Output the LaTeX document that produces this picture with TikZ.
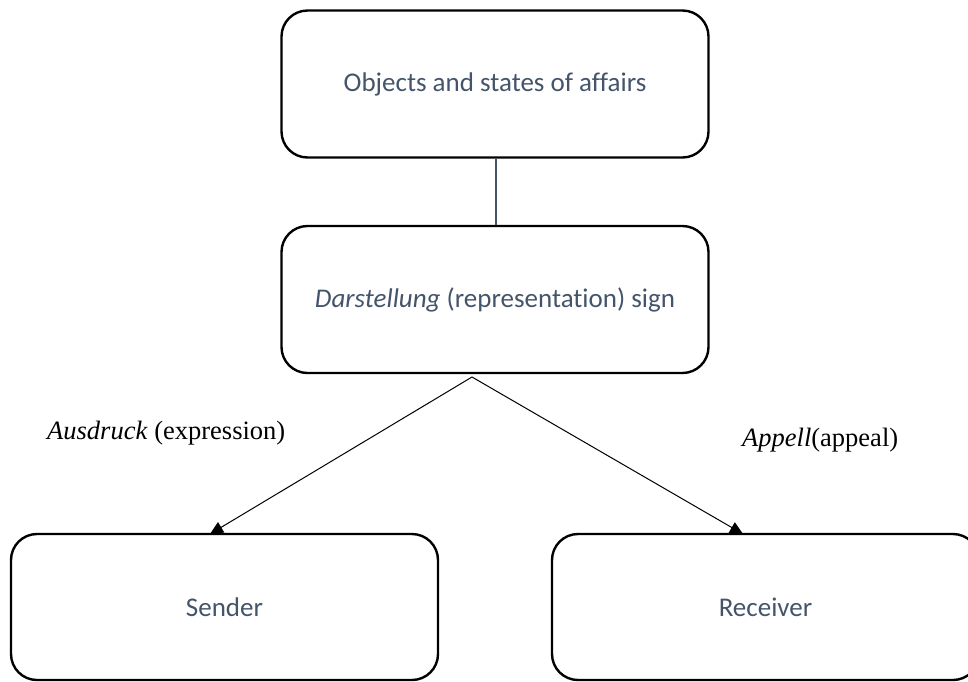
\documentclass[tikz,border=0pt]{standalone}
\usepackage{fontspec}
\setmainfont{Liberation Serif}
\newfontfamily\boxfont[RawFeature=-liga]{Carlito}
\usetikzlibrary{arrows.meta}
\definecolor{slate}{HTML}{44546A}
\begin{document}
\begin{tikzpicture}[x=1pt,y=-1pt,
  roundbox/.style={draw=black, line width=2.4pt, rounded corners=26pt,
    minimum width=427pt, minimum height=147pt, inner sep=0pt,
    font=\boxfont\fontsize{27}{32}\selectfont, text=slate},
  branch/.style={draw=black, line width=1pt,
    -{Triangle[length=13pt,width=12pt]}},
  caption/.style={font=\fontsize{26.5}{30}\selectfont, text=black, inner sep=0pt}]
  \useasboundingbox (0,0) rectangle (968,681);

  % boxes
  \node[roundbox] (objects) at (495,84) {Objects and states of affairs};
  \node[roundbox] (sign) at (495,299.5) {\textit{Darstellung} (representation) sign};
  \node[roundbox, minimum height=146pt] (sender) at (224.5,607) {Sender};
  \node[roundbox, minimum height=146pt] (receiver) at (765.5,607) {Receiver};

  % link between the object box and the sign
  \draw[slate, line width=2pt] (objects.south -| 496,0) -- (sign.north -| 496,0);

  % the two functions branching from the sign
  \coordinate (apex) at (472,377);
  \coordinate (sendtip) at (210,534);
  \coordinate (recvtip) at (743,534);
  \draw[branch] (apex) -- (sendtip);
  \draw[branch] (apex) -- (recvtip);

  % function labels
  \node[caption, anchor=west] (expr) at (47,433) {\textit{Ausdruck} (expression)};
  \node[caption, anchor=west] (appeal) at (742,440) {\textit{Appell}(appeal)};
\end{tikzpicture}
\end{document}
